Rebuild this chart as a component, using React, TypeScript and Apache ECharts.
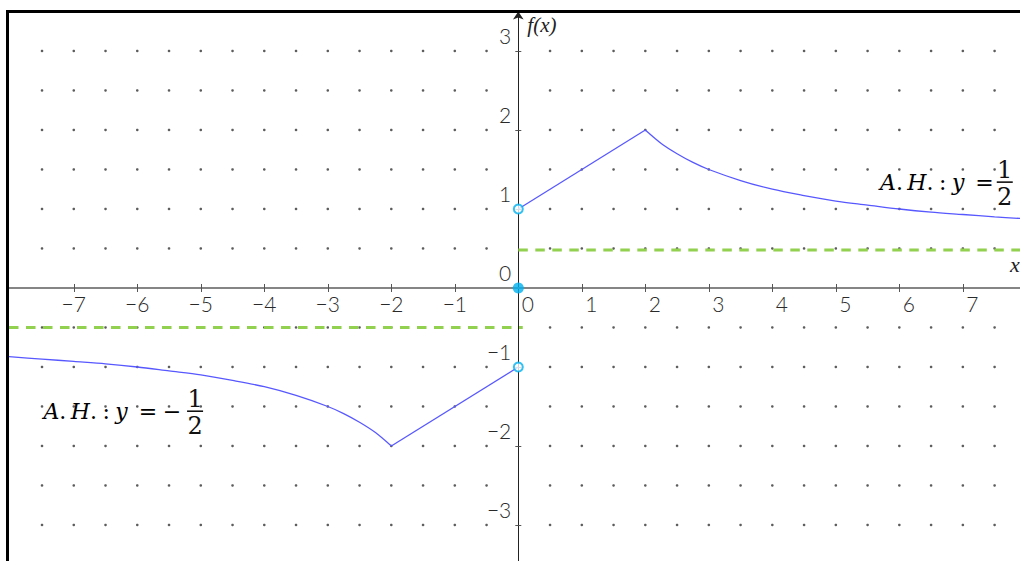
import React, { useEffect, useRef } from "react";
import * as echarts from "echarts";

// ---- data ----
const xTickValues = [-7, -6, -5, -4, -3, -2, -1, 1, 2, 3, 4, 5, 6, 7];
const xLabelValues = [-7, -6, -5, -4, -3, -2, -1, 0, 1, 2, 3, 4, 5, 6, 7];
const yTickValues = [-3, -2, -1, 1, 2, 3];
const yLabelValues = [-3, -2, -1, 0, 1, 2, 3];

const dotX = [-7.5, -7, -6.5, -6, -5.5, -5, -4.5, -4, -3.5, -3, -2.5, -2, -1.5, -1, -0.5,
  0.5, 1, 1.5, 2, 2.5, 3, 3.5, 4, 4.5, 5, 5.5, 6, 6.5, 7, 7.5];
const dotY = [-3, -2.5, -2, -1.5, -1, -0.5, 0.5, 1, 1.5, 2, 2.5, 3];

const X_MIN = -8.02;
const X_MAX = 7.9;
const Y_MIN = -3.456;
const Y_MAX = 3.5;

// right branch f(x) for x > 0
const rightLinear = [[0, 1], [2, 2]];
const rightCurve = [
  [2, 2], [2.25, 1.83], [2.5, 1.7], [2.75, 1.59], [3, 1.5], [3.5, 1.36],
  [4, 1.25], [4.5, 1.17], [5, 1.1], [5.5, 1.05], [6, 1.0], [6.5, 0.96], [7, 0.93],
  [7.5, 0.9], [7.9, 0.88],
];
// left branch f(x) for x < 0
const leftCurve = [
  [-8.02, -0.87], [-7.5, -0.9], [-7, -0.93], [-6.5, -0.96], [-6, -1.0], [-5.5, -1.05],
  [-5, -1.1], [-4.5, -1.17], [-4, -1.25], [-3.5, -1.36], [-3, -1.5], [-2.75, -1.59],
  [-2.5, -1.7], [-2.25, -1.83], [-2, -2],
];
const leftLinear = [[-2, -2], [0, -1]];
const asymptoteRight = [[0, 0.48], [7.9, 0.48]];
const asymptoteLeft = [[-8.02, -0.5], [0.07, -0.5]];
const openPoints = [[0, 1], [0, -1]];
const filledPoints = [[0, 0]];

// annotation anchors (fraction centre, data units)
const annoRight = { x: 7.66, y: 1.34, sign: "", gap: -11 };
const annoLeft = { x: -5.09, y: -1.56, sign: "\u2005\u2212", gap: -14 };

const TICK_FONT = "Lato";
const MATH_FONT = "DejaVu Serif";

export default function App() {
  const ref = useRef<HTMLDivElement>(null);

  useEffect(() => {
    if (!ref.current) return;
    const chart = echarts.init(ref.current, undefined, { renderer: "svg" });

    const dots: number[][] = [];
    dotX.forEach((x) => dotY.forEach((y) => dots.push([x, y])));

    const labelStyleBase = {
      fontFamily: TICK_FONT,
      fontWeight: 300,
      fontSize: 21,
      color: "#2a2a2a",
    };
    const tickStyle = { color: "#555", width: 1 };
    const curveStyle = { color: "#5858ff", width: 1.3 };
    const dashStyle = { color: "#92d050", width: 3, type: [9.5, 7.5] };

    const option: any = {
      animation: false,
      grid: { left: 9, right: 0, top: 11.5, bottom: 0, containLabel: false, outerBoundsMode: "none" },
      xAxis: [
        {
          type: "value",
          min: X_MIN,
          max: X_MAX,
          position: "bottom",
          offset: 0,
          axisLine: { show: true, onZero: false, lineStyle: { color: "#858585", width: 2 } },
          axisTick: { show: true, customValues: xTickValues, length: 4, lineStyle: tickStyle },
          axisLabel: {
            show: true,
            customValues: xLabelValues,
            margin: 5,
            formatter: (v: number) =>
              v < 0 ? `{m|\u2212}{d|${-v}}` : `{h|\u2212}{d|${v}}`,
            rich: {
              m: { ...labelStyleBase },
              h: { ...labelStyleBase, color: "rgba(0,0,0,0)", width: 19 },
              d: { ...labelStyleBase },
            },
          },
          splitLine: { show: false },
          name: "x",
          nameLocation: "end",
          nameGap: -10,
          nameTextStyle: {
            fontFamily: "Liberation Serif",
            fontStyle: "italic",
            fontSize: 22,
            color: "#222",
            align: "left",
            verticalAlign: "bottom",
            padding: [0, 0, 12, 0],
          },
        },
        {
          type: "value",
          min: X_MIN,
          max: X_MAX,
          position: "top",
          offset: 0,
          axisLine: { show: false, onZero: false },
          axisTick: { show: true, customValues: xTickValues, length: 4, lineStyle: tickStyle },
          axisLabel: { show: false },
          splitLine: { show: false },
        },
      ],
      yAxis: [
        {
          type: "value",
          min: Y_MIN,
          max: Y_MAX,
          position: "left",
          offset: 0,
          axisLine: {
            show: true,
            onZero: false,
            symbol: ["none", "arrow"],
            symbolSize: [8, 8],
            lineStyle: { color: "#222", width: 1 },
          },
          axisTick: { show: true, customValues: yTickValues, length: 3, lineStyle: tickStyle },
          axisLabel: {
            show: true,
            customValues: yLabelValues,
            margin: 7,
            verticalAlign: "bottom",
            padding: [0, 0, 5, 0],
            ...labelStyleBase,
            formatter: (v: number) => (v < 0 ? `\u2212${-v}` : `${v}`),
          },
          splitLine: { show: false },
          name: "f(x)",
          nameLocation: "end",
          nameGap: -3,
          nameTextStyle: {
            fontFamily: "Liberation Serif",
            fontStyle: "italic",
            fontSize: 21,
            color: "#222",
            align: "left",
            verticalAlign: "top",
            padding: [0, 0, 0, 9],
          },
        },
        {
          type: "value",
          min: Y_MIN,
          max: Y_MAX,
          position: "right",
          offset: 0,
          axisLine: { show: false, onZero: false },
          axisTick: { show: true, customValues: yTickValues, length: 3, lineStyle: tickStyle },
          axisLabel: { show: false },
          splitLine: { show: false },
        },
      ],
      series: [
        {
          type: "scatter",
          data: dots,
          symbol: "circle",
          symbolSize: 2.6,
          itemStyle: { color: "#333" },
          silent: true,
          z: 1,
        },
        { type: "line", data: asymptoteRight, showSymbol: false, lineStyle: dashStyle, z: 2 },
        { type: "line", data: asymptoteLeft, showSymbol: false, lineStyle: dashStyle, z: 2 },
        { type: "line", data: rightLinear, showSymbol: false, lineStyle: curveStyle, z: 3 },
        { type: "line", data: rightCurve, showSymbol: false, smooth: 0.3, lineStyle: curveStyle, z: 3 },
        { type: "line", data: leftCurve, showSymbol: false, smooth: 0.3, lineStyle: curveStyle, z: 3 },
        { type: "line", data: leftLinear, showSymbol: false, lineStyle: curveStyle, z: 3 },
        {
          type: "scatter",
          data: openPoints,
          symbol: "circle",
          symbolSize: 9,
          itemStyle: { color: "#ffffff", borderColor: "#00b0f0", borderWidth: 2 },
          z: 5,
        },
        {
          type: "scatter",
          data: filledPoints,
          symbol: "circle",
          symbolSize: 11,
          itemStyle: { color: "#00b0f0" },
          z: 5,
        },
      ],
    };

    chart.setOption(option);

    // move the axes onto the origin using the library's own scales
    const [ox, oy] = chart.convertToPixel({ gridIndex: 0 }, [0, 0]) as number[];
    const [lx, ty] = chart.convertToPixel({ gridIndex: 0 }, [X_MIN, Y_MAX]) as number[];
    const [rx, by] = chart.convertToPixel({ gridIndex: 0 }, [X_MAX, Y_MIN]) as number[];
    chart.setOption({
      xAxis: [{ offset: -(by - oy) }, { offset: -(oy - ty) }],
      yAxis: [{ offset: -(ox - lx) }, { offset: -(rx - ox) }],
    });

    const mathRich = {
      i: { fontFamily: MATH_FONT, fontStyle: "italic", fontSize: 22, color: "#111" },
      p: { fontFamily: MATH_FONT, fontSize: 22, color: "#111" },
    };
    const annotation = (
      id: string,
      a: { x: number; y: number; sign: string; gap: number }
    ) => {
      const [px, py] = chart.convertToPixel({ gridIndex: 0 }, [a.x, a.y]) as number[];
      return {
        type: "group",
        id,
        x: px,
        y: py,
        z: 20,
        children: [
          {
            type: "text",
            x: a.gap,
            y: 0,
            style: {
              text: `{i|A}{p|.\u2009}{i|H}{p|.\u2005:\u2005}{i|y}{p|\u2002=${a.sign}}`,
              rich: mathRich,
              align: "right",
              verticalAlign: "middle",
            },
          },
          {
            type: "text",
            x: 0,
            y: 0,
            style: {
              text: "1",
              fontFamily: MATH_FONT,
              fontSize: 24,
              fill: "#111",
              align: "center",
              verticalAlign: "bottom",
            },
          },
          {
            type: "line",
            shape: { x1: -8, y1: 0, x2: 8, y2: 0 },
            style: { stroke: "#111", lineWidth: 1.6 },
          },
          {
            type: "text",
            x: 0,
            y: 3,
            style: {
              text: "2",
              fontFamily: MATH_FONT,
              fontSize: 24,
              fill: "#111",
              align: "center",
              verticalAlign: "top",
            },
          },
        ],
      };
    };

    chart.setOption({
      graphic: [
        {
          type: "line",
          id: "borderTop",
          shape: { x1: 6, y1: 11.5, x2: 1020, y2: 11.5 },
          style: { stroke: "#000", lineWidth: 3 },
          z: 30,
        },
        {
          type: "line",
          id: "borderLeft",
          shape: { x1: 7.5, y1: 10, x2: 7.5, y2: 561 },
          style: { stroke: "#000", lineWidth: 3 },
          z: 30,
        },
        annotation("annoRight", annoRight),
        annotation("annoLeft", annoLeft),
      ],
    });

    return () => chart.dispose();
  }, []);

  return (
    <div
      ref={ref}
      style={{ position: "absolute", left: 0, top: 0, width: 1020, height: 561, background: "#fff" }}
    />
  );
}
